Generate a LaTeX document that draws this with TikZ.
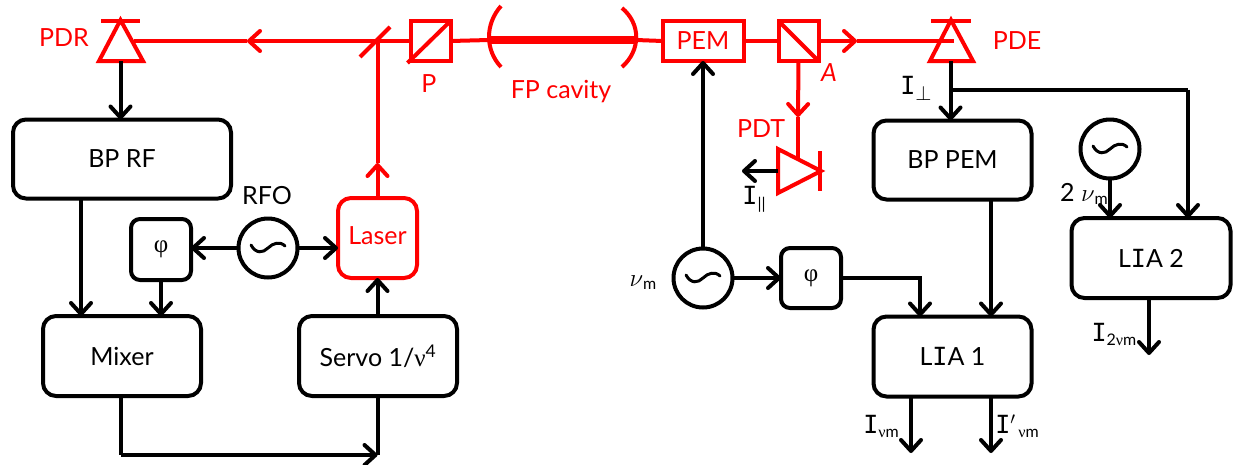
\documentclass[tikz,border=0pt]{standalone}
\usepackage{amsmath, amssymb}
\usepackage{fontspec}
\setmainfont{Lato}
\newfontfamily\barfont{DejaVu Sans Mono}
\newfontfamily\greekfont{Liberation Serif}
\usetikzlibrary{arrows.meta}
\newcommand{\barI}{{\barfont I}}
\newcommand{\nuup}{{\greekfont ν}}
\newcommand{\smalltxt}[1]{{\fontsize{16}{16}\selectfont #1}}
\begin{document}
\begin{tikzpicture}[
      x=1pt, y=-1pt,
      every node/.style={inner sep=0pt, outer sep=0pt, font=\fontsize{25}{27}\selectfont},
      conn/.style={draw=black, line width=4pt},
      arr/.style={conn, -{Straight Barb[length=11pt,width=20pt,line width=4pt,round]}},
      beam/.style={draw=red, line width=4pt},
      beamarr/.style={beam, -{Straight Barb[length=11pt,width=20pt,line width=4pt,round]}},
      block/.style={draw=black, line width=4pt, rounded corners=13pt, align=center},
      optic/.style={draw=red, line width=4pt, minimum height=40pt},
      osc/.style={circle, draw=black, line width=4pt, minimum size=59pt},
      lbl/.style={text=red},
      sinewave/.pic={\draw[line width=3pt, line cap=round] (-17,-3) .. controls (-12,6) and (-5,5) .. (0,0) .. controls (5,-5) and (12,-7) .. (17,-2);}
    ]
    \useasboundingbox (0,0) rectangle (1237,464);

    \node[block, minimum width=218pt, minimum height=79pt] (bprf) at (122,159) {BP RF};
    \node[block, minimum width=158pt, minimum height=80pt] (mixer) at (122,356) {Mixer};
    \node[block, minimum width=158pt, minimum height=80pt] (servo) at (378,356) {Servo 1/\nuup\textsuperscript{4}};
    \node[block, draw=red, text=red, minimum width=79pt, minimum height=80pt] (laser) at (377.5,238) {\raisebox{4pt}{Laser}};
    \node[block, rounded corners=9pt, minimum width=60pt, minimum height=61pt] (phil) at (161,249.5) {{\greekfont φ}};
    \node[osc] (rfo) at (268,248) {};
    \node (rfolbl) at (267,196) {RFO};

    \node[block, minimum width=158pt, minimum height=79pt] (bppem) at (952.5,160) {BP PEM};
    \node[block, minimum width=158pt, minimum height=80pt] (liaa) at (952.5,356.5) {L\barI{}A 1};
    \node[block, minimum width=159pt, minimum height=80pt] (liab) at (1151,258) {L\barI{}A 2};
    \node[osc] (oscb) at (1110,149) {};
    \node[osc] (oscm) at (703,278) {};
    \node[block, rounded corners=9pt, minimum width=60pt, minimum height=60pt] (phir) at (811,278) {{\greekfont φ}};

    \node[optic, minimum width=40pt] (pcube) at (430.5,41) {};
    \node[optic, minimum width=40pt] (acube) at (798.5,41) {};
    \node[optic, text=red, minimum width=81pt] (pem) at (703,41) {PEM};

    \coordinate (pdr) at (134,41);
    \coordinate (pdrbase) at (120.5,61);
    \coordinate (pde) at (954,41);
    \coordinate (pdebase) at (950.5,61);
    \coordinate (pdtbase) at (778,171);
    \coordinate (pdtin) at (798,160);
    \coordinate (mir) at (377.5,41);
    \coordinate (fpl) at (489,40);
    \coordinate (fpr) at (636,40);
    \coordinate (midl) at (247,41);
    \coordinate (midr) at (857,41);
    \coordinate (midup) at (377.5,163);
    \coordinate (midpdt) at (798,117);
    \coordinate (ipar) at (742,171);
    \coordinate (branch) at (950.5,89.5);
    \coordinate (branchr) at (1188,89.5);
    \coordinate (corner) at (120.5,455);
    \coordinate (cornerr) at (377.5,455);
    \coordinate (outa) at (911,453);
    \coordinate (outb) at (991,453);
    \coordinate (outc) at (1149,355);

    \draw[beam] (99,61) -- (120.5,20) -- (143,61) -- cycle;
    \draw[beam] (101,21) -- (140,21);
    \draw[beam] (930,61) -- (951,20) -- (973,61) -- cycle;
    \draw[beam] (931,21) -- (971,21);
    \draw[beam] (778,149) -- (821,171) -- (778,193) -- cycle;
    \draw[beam] (820,151) -- (820,191);
    \draw[beam] (360,57) -- (390,27);
    \draw[beam] (501,6) .. controls (485,24) and (485,50) .. (501,67);
    \draw[beam] (622,8) .. controls (641,24) and (641,50) .. (622,67);
    \draw[beam] (pcube.south west) ++(-3,2) -- (pcube.north east);
    \draw[beam] (acube.north west) -- (acube.south east);

    \draw[beam, line width=8pt] (fpl) -- (fpr);
    \draw[beam] (pcube.east) -- (fpl);
    \draw[beam] (fpr) -- (pem.west);
    \draw[beam] (pem.east) -- (acube.west);
    \draw[beamarr] (pcube.west) -- (midl);
    \draw[beam] (midl) -- (pdr);
    \draw[beamarr] (acube.east) -- (midr);
    \draw[beam] (midr) -- (pde);
    \draw[beamarr] (laser.north) -- (midup);
    \draw[beam] (midup) -- (mir);
    \draw[beamarr] (acube.south) -- (midpdt);
    \draw[beam] (midpdt) -- (pdtin);

    \draw[arr] (pdrbase) -- (pdrbase |- bprf.north);
    \draw[arr] (81,199) -- (81,316);
    \draw[arr] (phil.south) -- (phil.south |- mixer.north);
    \draw[arr] (rfo.west) -- (phil.east |- rfo.west);
    \draw[arr] (rfo.east) -- (laser.west |- rfo.east);
    \draw[arr] (servo.north -| laser.south) -- (laser.south);
    \draw[conn] (mixer.south -| corner) -- (corner);
    \draw[arr] (corner) -- (cornerr);
    \draw[conn] (servo.south -| cornerr) -- (cornerr);

    \draw[arr] (pdtbase) -- (ipar);
    \draw[arr] (pdebase) -- (pdebase |- bppem.north);
    \draw[conn] (branch) -- (branchr);
    \draw[arr] (branchr) -- (branchr |- liab.north);
    \draw[arr] (oscb.south) -- (oscb.south |- liab.north);
    \draw[arr] (oscm.north) -- (pem.south);
    \draw[arr] (oscm.east) -- (phir.west);
    \draw[arr] (phir.east) -- (920,278) -- (920,316.5);
    \draw[arr] (991,200) -- (991,316.5);
    \draw[arr] (911,396.5) -- (outa);
    \draw[arr] (991,396.5) -- (outb);
    \draw[arr] (liab.south -| outc) -- (outc);

    \pic at (rfo) {sinewave};
    \pic at (oscb) {sinewave};
    \pic at (oscm) {sinewave};

    \node[lbl] (pdrlbl) at (64,38) {PDR};
    \node[lbl] (plbl) at (429,84) {P};
    \node[lbl] (fplbl) at (561,92) {FP cavity};
    \node[lbl] (albl) at (829,73) {\itshape A};
    \node[lbl] (pdelbl) at (1017,41) {PDE};
    \node[lbl] (pdtlbl) at (761,129) {PDT};

    \node (iperp) at (916,88) {\barI\raisebox{-6pt}{\fontsize{20}{20}\selectfont$\perp$}};
    \node (ipara) at (754,199) {\barI\raisebox{-5pt}{\smalltxt{||}}};
    \node (numlbl) at (643,283) {$\nu$\raisebox{-3pt}{\smalltxt{m}}};
    \node (twonu) at (1084,194) {2 $\nu$\raisebox{-3pt}{\smalltxt{m}}};
    \node (ivm) at (881,426) {\barI\raisebox{-4pt}{\smalltxt{\nuup m}}};
    \node (ipvm) at (1017,426) {\barI$'$\raisebox{-4pt}{\smalltxt{\,\nuup m}}};
    \node (itwo) at (1114,334) {\barI\raisebox{-4pt}{\smalltxt{2\nuup m}}};
    \end{tikzpicture}
\end{document}
